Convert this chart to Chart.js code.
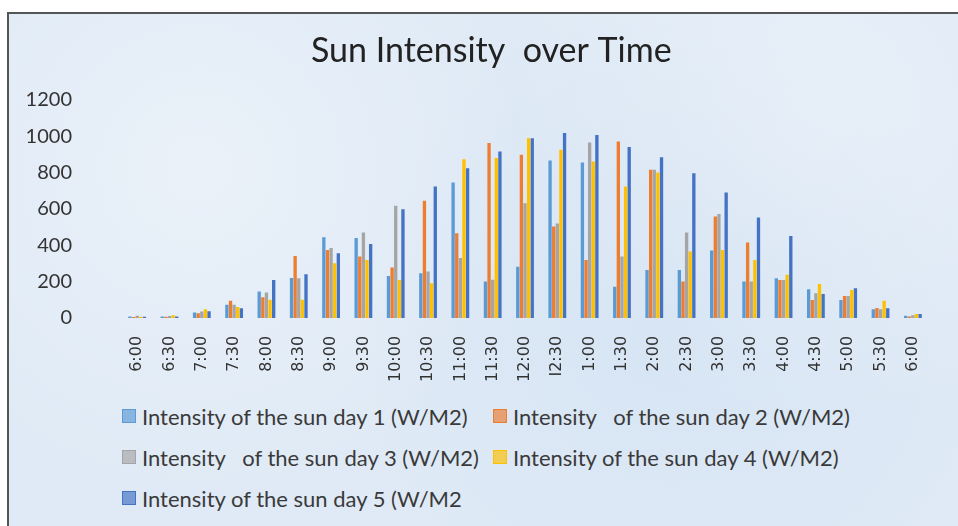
<!DOCTYPE html>
<html>
<head>
<meta charset="utf-8">
<script src="https://cdn.jsdelivr.net/npm/chart.js@4.4.1/dist/chart.umd.min.js"></script>
<style>
    body { margin: 0; background: #fff; overflow: hidden; }
    #frame {
        position: absolute; left: 7px; top: 12px; width: 949px; height: 514px;
        border-left: 2px solid #555; border-top: 2px solid #555;
        background: #dfeaf6;
        background-image:
            radial-gradient(circle at 20% 30%, rgba(255,255,255,0.35), transparent 40%),
            radial-gradient(circle at 70% 60%, rgba(195,215,238,0.3), transparent 45%),
            radial-gradient(circle at 85% 20%, rgba(255,255,255,0.3), transparent 35%);
    }
    #wrap { position: absolute; left: 0; top: 0; width: 958px; height: 398px; }
    #legend { position: absolute; left: 122px; top: 402px; width: 760px; font-family: Lato, sans-serif; font-size: 22px; color: #3a3a3a; }
    .item { position: absolute; display: flex; align-items: center; white-space: pre; height: 28px; }
    .box { width: 12px; height: 12px; margin-right: 6px; border: 1px solid; }
</style>
</head>
<body>
<div id="frame"></div>
<div id="wrap"><canvas id="sunChart"></canvas></div>
<div id="legend"></div>
<script>
// данные графика
const times = ["6:00", "6:30", "7:00", "7:30", "8:00", "8:30", "9:00", "9:30", "10:00", "10:30", "11:00", "11:30",
    "12:00", "I2:30", "1:00", "1:30", "2:00", "2:30", "3:00", "3:30", "4:00", "4:30", "5:00", "5:30", "6:00"];

const day1 = [8, 8, 30, 72, 145, 220, 444, 439, 231, 246, 745, 200, 282, 866, 855, 172, 264, 264, 371, 200, 218, 158, 99, 48, 12];
const day2 = [5, 6, 25, 94, 114, 341, 374, 338, 277, 644, 466, 962, 897, 503, 319, 971, 815, 200, 558, 415, 209, 99, 121, 55, 8];
const day3 = [12, 10, 35, 72, 140, 218, 384, 470, 617, 255, 330, 210, 631, 520, 965, 338, 815, 470, 571, 200, 209, 135, 121, 48, 14];
const day4 = [6, 14, 48, 60, 100, 100, 300, 319, 209, 191, 873, 880, 989, 925, 861, 723, 800, 365, 374, 319, 237, 186, 154, 95, 22];
const day5 = [6, 8, 37, 53, 209, 240, 356, 407, 598, 723, 824, 916, 989, 1017, 1007, 940, 884, 796, 690, 552, 451, 132, 163, 53, 22];

const seriesNames = [
    "Intensity of the sun day 1 (W/M2)",
    "Intensity   of the sun day 2 (W/M2)",
    "Intensity   of the sun day 3 (W/M2)",
    "Intensity of the sun day 4 (W/M2)",
    "Intensity of the sun day 5 (W/M2"
];
const seriesColors = ["#5B9BD5", "#ED7D31", "#A5A5A5", "#FFC000", "#4472C4"];
const yTicks = [0, 200, 400, 600, 800, 1000, 1200];

const allData = [day1, day2, day3, day4, day5];

const ctx = document.getElementById("sunChart").getContext("2d");
const chart = new Chart(ctx, {
    type: "bar",
    data: {
        labels: times,
        datasets: allData.map((d, i) => ({
            label: seriesNames[i],
            data: d,
            backgroundColor: seriesColors[i],
            categoryPercentage: 0.56,
            barPercentage: 0.92
        }))
    },
    options: {
        responsive: true,
        maintainAspectRatio: false,
        animation: false,
        layout: { padding: { top: 30, left: 10, right: 29, bottom: 6 } },
        plugins: {
            legend: { display: false },
            tooltip: { enabled: false },
            title: {
                display: true,
                // пробелы сдвигают заголовок правее, как в оригинале
                text: "     Sun Intensity  over Time",
                color: "#222",
                font: { family: "Lato", size: 34, weight: "normal" },
                padding: { top: 1, bottom: 28 }
            }
        },
        scales: {
            x: {
                grid: { display: false },
                border: { display: false },
                ticks: {
                    color: "#333",
                    font: { family: "DejaVu Sans", size: 16 },
                    minRotation: 90,
                    maxRotation: 90,
                    autoSkip: false,
                    padding: 10
                }
            },
            y: {
                min: 0,
                max: 1200,
                grid: { display: false, drawTicks: false },
                border: { display: false },
                afterFit: (s) => { s.width = 111; },
                afterBuildTicks: (s) => { s.ticks = yTicks.map(v => ({ value: v })); },
                ticks: {
                    color: "#333",
                    font: { family: "Lato", size: 20 },
                    padding: 49,
                    callback: (v) => String(v)
                }
            }
        }
    }
});

// легенда
const legend = document.getElementById("legend");
const spots = [[0, 0], [371, 0], [0, 41], [371, 41], [0, 82]];
seriesNames.forEach((name, i) => {
    const item = document.createElement("div");
    item.className = "item";
    item.style.left = spots[i][0] + "px";
    item.style.top = spots[i][1] + "px";
    const box = document.createElement("span");
    box.className = "box";
    box.style.background = seriesColors[i] + "aa";
    box.style.borderColor = seriesColors[i];
    item.appendChild(box);
    item.appendChild(document.createTextNode(name));
    legend.appendChild(item);
});
</script>
</body>
</html>
